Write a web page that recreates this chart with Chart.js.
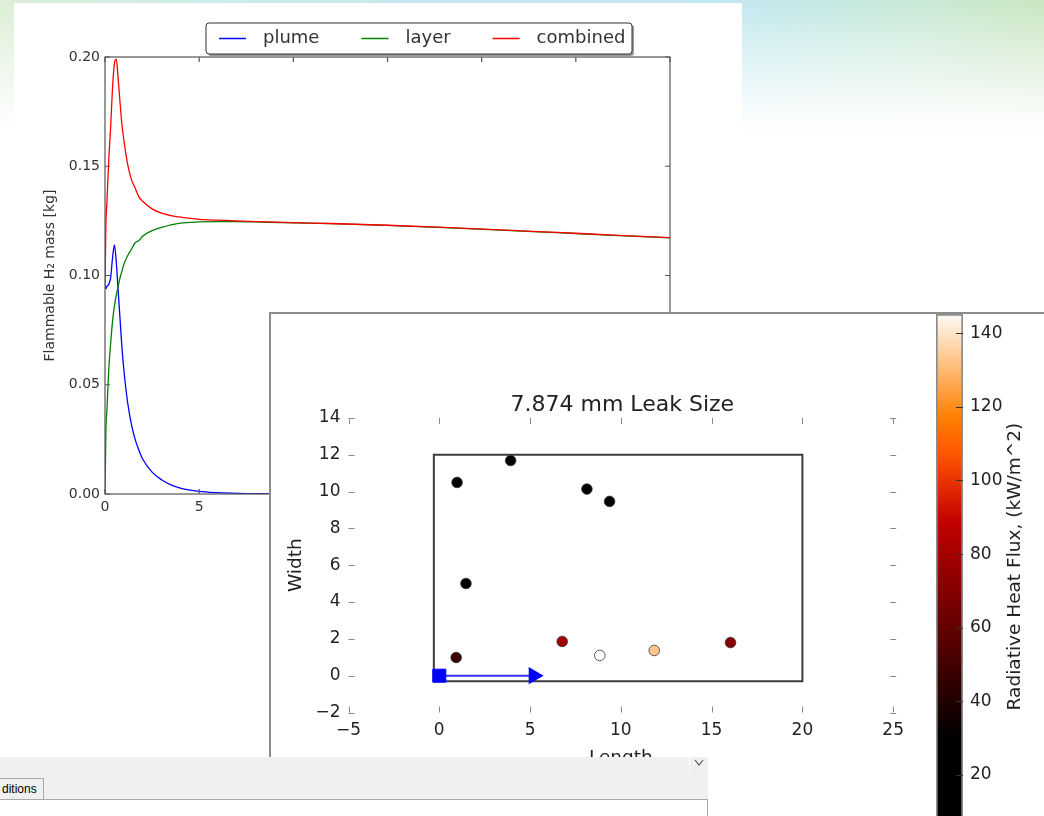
<!DOCTYPE html>
<html>
<head>
<meta charset="utf-8">
<script src="https://cdn.jsdelivr.net/npm/chart.js@4.4.1/dist/chart.umd.min.js"></script>
<style>
  html, body { margin: 0; padding: 0; width: 1044px; height: 816px; overflow: hidden; background: #fff; }
  .abs { position: absolute; }
  #slideBg {
    left: 0; top: 0; width: 1044px; height: 140px;
    background-image:
      linear-gradient(to bottom, rgba(255,255,255,0) 0px, rgba(255,255,255,0.45) 55px, rgba(255,255,255,0.92) 118px, #fff 136px),
      linear-gradient(to right, #dcefd5 0px, #c9ebee 260px, #c1e8f2 720px, #c9e9d6 920px, #c9e6c0 1044px);
  }
  #panelMass { left: 14px; top: 3px; width: 728px; height: 527px; background: #fff; }
  #massChart { left: 14px; top: 3px; }
  #panelLeak { left: 269px; top: 312px; width: 800px; height: 520px; background: #fff;
               border-left: 2px solid #8c8c8c; border-top: 2px solid #8c8c8c; }
  #leakChart { left: 272px; top: 315px; }
  #fluxBar { left: 912px; top: 290px; }
  #toolbar { left: 0; top: 757px; width: 708px; height: 43px; background: #f0f0f0; }
  #tbSep { left: 689px; top: 757px; width: 1px; height: 16px; background: #fff; }
  #tbChevron { left: 694px; top: 759px; }
  #tab { left: -1px; top: 778px; width: 45px; height: 21px; background: #f0f0f0;
         border: 1px solid #a9a9a9; border-bottom: none; box-sizing: border-box;
         font: 12px "Liberation Sans", Arial, sans-serif; color: #000; line-height: 20px; padding-left: 2px; }
  #pane { left: 0; top: 799px; width: 707px; height: 30px; background: #fff;
          border-top: 1px solid #a9a9a9; border-right: 1px solid #a9a9a9; }
</style>
</head>
<body>
<div class="abs" id="slideBg"></div>
<div class="abs" id="panelMass"></div>
<canvas class="abs" id="massChart" width="728" height="527"></canvas>
<div class="abs" id="panelLeak"></div>
<canvas class="abs" id="leakChart" width="640" height="501"></canvas>
<canvas class="abs" id="fluxBar" width="132" height="580"></canvas>
<div class="abs" id="toolbar"></div>
<div class="abs" id="tbSep"></div>
<svg class="abs" id="tbChevron" width="10" height="8"><polyline points="1,1 5,6 9,1" fill="none" stroke="#555" stroke-width="1.2"/></svg>
<div class="abs" id="pane"></div>
<div class="abs" id="tab">ditions</div>

<script>
// flammable mass over time (s)
const timeS = [0, 0.05, 0.1, 0.2, 0.3, 0.4, 0.5, 0.6, 0.7, 0.8, 0.9, 1.0, 1.2, 1.4, 1.6, 1.8, 2.0,
               2.5, 3, 3.5, 4, 5, 6, 7, 8, 10, 12, 15, 18, 21, 24, 27, 30];
const plumeKg = [0.095, 0.094, 0.095, 0.096, 0.099, 0.108, 0.114, 0.106, 0.093, 0.080, 0.067, 0.057, 0.042,
                 0.032, 0.025, 0.020, 0.016, 0.010, 0.0065, 0.0042, 0.0027, 0.0012, 0.0006, 0.0003, 0.0002,
                 0.0001, 0.0001, 0, 0, 0, 0, 0, 0];
const layerKg = [0, 0.030, 0.038, 0.057, 0.069, 0.079, 0.086, 0.091, 0.095, 0.099, 0.102, 0.105, 0.109,
                 0.112, 0.115, 0.116, 0.118, 0.1205, 0.122, 0.1232, 0.124, 0.1245, 0.1247, 0.1247, 0.1245,
                 0.1241, 0.1237, 0.1229, 0.1219, 0.1208, 0.1196, 0.1184, 0.1172];
const combinedKg = [0.095, 0.124, 0.133, 0.153, 0.168, 0.186, 0.197, 0.199, 0.190, 0.179, 0.169, 0.162, 0.151,
                    0.144, 0.140, 0.136, 0.134, 0.1305, 0.1285, 0.1274, 0.1267, 0.1257, 0.1253, 0.1250, 0.1247,
                    0.1242, 0.1238, 0.1230, 0.1220, 0.1209, 0.1197, 0.1185, 0.1173];

// leak scenario: occupant positions (m) and heat flux (kW/m^2)
const leakLengths = [0.98, 3.93, 8.13, 9.38, 1.47, 0.93, 6.77, 8.84, 11.84, 16.04];
const leakWidths  = [10.5, 11.69, 10.14, 9.47, 5.01, 0.99, 1.86, 1.1, 1.37, 1.8];
const heatFlux    = [12, 10, 18, 15, 25, 48, 79, 146, 133, 71];
const facilityX = [-0.3, 20, 20, -0.3, -0.3];
const facilityY = [-0.3, -0.3, 12, 12, -0.3];
const originX = [0];
const originY = [0];
const arrowX = [0, 5.2];
const arrowY = [0, 0];
const fluxTicks = [20, 40, 60, 80, 100, 120, 140];
const fluxScaleMin = 8;
const fluxScaleMax = 145.2;
const cmapLow = 30;
const cmapHigh = 146;

Chart.defaults.font.family = '"DejaVu Sans", sans-serif';
Chart.defaults.animation = false;

function toPoints(xs, ys) {
    return xs.map((x, i) => ({x: x, y: ys[i]}));
}

// matplotlib gist_heat
function heatColor(v) {
    const t = Math.min(1, Math.max(0, (v - cmapLow) / (cmapHigh - cmapLow)));
    const c = (k) => Math.round(255 * Math.min(1, Math.max(0, k)));
    return `rgb(${c(1.5 * t)}, ${c(2 * t - 1)}, ${c(4 * t - 3)})`;
}

function minusLabel(v) {
    return v < 0 ? '\u2212' + Math.abs(v) : String(v);
}

const massFramePlugin = {
    id: 'massFrame',
    afterDraw(chart) {
        const ctx = chart.ctx;
        const a = chart.chartArea;
        const x = chart.scales.x;
        const y = chart.scales.y;
        ctx.save();
        ctx.strokeStyle = '#555';
        ctx.lineWidth = 1.2;
        ctx.strokeRect(a.left, a.top, a.right - a.left, a.bottom - a.top);
        ctx.beginPath();
        x.ticks.forEach((t) => {
            const px = x.getPixelForValue(t.value);
            ctx.moveTo(px, a.bottom); ctx.lineTo(px, a.bottom - 5);
            ctx.moveTo(px, a.top); ctx.lineTo(px, a.top + 5);
        });
        y.ticks.forEach((t) => {
            const py = y.getPixelForValue(t.value);
            ctx.moveTo(a.left, py); ctx.lineTo(a.left + 5, py);
            ctx.moveTo(a.right, py); ctx.lineTo(a.right - 5, py);
        });
        ctx.stroke();

        // legend box
        const bx = 192, by = 20, bw = 426, bh = 31;
        ctx.fillStyle = 'rgba(0,0,0,0.4)';
        ctx.beginPath();
        ctx.roundRect(bx + 2, by + 2, bw, bh, 3);
        ctx.fill();
        ctx.fillStyle = '#fff';
        ctx.strokeStyle = '#333';
        ctx.lineWidth = 1;
        ctx.beginPath();
        ctx.roundRect(bx, by, bw, bh, 3);
        ctx.fill();
        ctx.stroke();
        ctx.font = '18px "DejaVu Sans"';
        ctx.textBaseline = 'middle';
        let lx = bx + 13;
        const ly = by + bh / 2;
        chart.data.datasets.forEach((ds) => {
            ctx.strokeStyle = ds.borderColor;
            ctx.lineWidth = 1.5;
            ctx.beginPath();
            ctx.moveTo(lx, ly); ctx.lineTo(lx + 27, ly);
            ctx.stroke();
            ctx.fillStyle = '#333';
            ctx.fillText(ds.label, lx + 44, ly);
            lx += 44 + ctx.measureText(ds.label).width + 42;
        });
        ctx.restore();
    }
};

new Chart(document.getElementById('massChart'), {
    type: 'line',
    data: {
        datasets: [
            {label: 'plume', data: toPoints(timeS, plumeKg), borderColor: '#0000ff', order: 2},
            {label: 'layer', data: toPoints(timeS, layerKg), borderColor: '#008000', order: 1},
            {label: 'combined', data: toPoints(timeS, combinedKg), borderColor: '#ff0000', order: 0}
        ]
    },
    options: {
        responsive: false,
        events: [],
        elements: {
            line: {borderWidth: 1.3, cubicInterpolationMode: 'monotone', fill: false},
            point: {radius: 0}
        },
        layout: {padding: {left: 0, top: 54, right: 72, bottom: 6}},
        plugins: {legend: {display: false}, tooltip: {enabled: false}},
        scales: {
            x: {
                type: 'linear', min: 0, max: 30,
                grid: {display: false, drawTicks: false}, border: {display: false},
                ticks: {stepSize: 5, padding: 5, color: '#333', font: {size: 14}, maxRotation: 0, autoSkip: false},
                afterFit: (s) => { s.height = 30; }
            },
            y: {
                min: 0, max: 0.2,
                grid: {display: false, drawTicks: false}, border: {display: false},
                ticks: {stepSize: 0.05, padding: 5, color: '#333', font: {size: 14},
                        callback: (v) => v.toFixed(2)},
                title: {display: true, text: 'Flammable H\u2082 mass [kg]', color: '#333',
                        font: {size: 14}, padding: {top: 28, bottom: 0}},
                afterFit: (s) => { s.width = 91; }
            }
        }
    },
    plugins: [massFramePlugin]
});

const leakFramePlugin = {
    id: 'leakFrame',
    afterDraw(chart) {
        const ctx = chart.ctx;
        const a = chart.chartArea;
        const x = chart.scales.x;
        const y = chart.scales.y;
        ctx.save();
        ctx.strokeStyle = '#888';
        ctx.lineWidth = 1;
        ctx.beginPath();
        x.ticks.forEach((t) => {
            const px = Math.round(x.getPixelForValue(t.value)) + 0.5;
            ctx.moveTo(px, a.bottom); ctx.lineTo(px, a.bottom - 6);
            ctx.moveTo(px, a.top); ctx.lineTo(px, a.top + 6);
        });
        y.ticks.forEach((t) => {
            const py = Math.round(y.getPixelForValue(t.value)) + 0.5;
            ctx.moveTo(a.left, py); ctx.lineTo(a.left + 6, py);
            ctx.moveTo(a.right - 3, py); ctx.lineTo(a.right + 3, py);
        });
        ctx.stroke();
        ctx.fillStyle = '#222';
        ctx.font = '22px "DejaVu Sans"';
        ctx.textAlign = 'center';
        ctx.textBaseline = 'middle';
        ctx.fillText('7.874 mm Leak Size', (a.left + a.right) / 2 + 1.5, a.top - 13);
        ctx.restore();
    }
};

new Chart(document.getElementById('leakChart'), {
    type: 'scatter',
    data: {
        datasets: [
            {label: 'Heat flux', data: toPoints(leakLengths, leakWidths), pointRadius: 5.3,
             pointBackgroundColor: heatFlux.map(heatColor), pointBorderColor: '#333', pointBorderWidth: 0.8, order: 0},
            {label: 'Leak origin', data: toPoints(originX, originY), pointStyle: 'rect', pointRadius: 9.2,
             pointBackgroundColor: '#0000ff', pointBorderColor: '#0000ff', pointBorderWidth: 1, order: 1},
            {type: 'line', label: 'Leak direction', data: toPoints(arrowX, arrowY), borderColor: '#3030ff',
             borderWidth: 2, pointRadius: [0, 8], pointStyle: 'triangle', pointRotation: 90,
             pointBackgroundColor: '#0000ff', pointBorderColor: '#0000ff', order: 2},
            {type: 'line', label: 'Facility', data: toPoints(facilityX, facilityY), borderColor: '#3c3c3c',
             borderWidth: 2, pointRadius: 0, order: 3}
        ]
    },
    options: {
        responsive: false,
        events: [],
        layout: {padding: {left: 0, top: 103, right: 14, bottom: 43.5}},
        plugins: {legend: {display: false}, tooltip: {enabled: false}},
        scales: {
            x: {
                type: 'linear', min: -5, max: 25,
                grid: {display: false, drawTicks: false}, border: {display: false},
                ticks: {stepSize: 5, padding: 8, color: '#222', font: {size: 17}, callback: minusLabel,
                        maxRotation: 0, autoSkip: false},
                title: {display: true, text: 'Length', color: '#222', font: {size: 18.5}, padding: {top: 0, bottom: 3}},
                afterFit: (s) => { s.height = 60; }
            },
            y: {
                min: -2, max: 14,
                grid: {display: false, drawTicks: false}, border: {display: false},
                ticks: {stepSize: 2, padding: 8, color: '#222', font: {size: 17}, callback: minusLabel},
                title: {display: true, text: 'Width', color: '#222', font: {size: 18.5}, padding: {top: 13, bottom: 0}},
                afterFit: (s) => { s.width = 76.5; }
            }
        }
    },
    plugins: [leakFramePlugin]
});

const colorbarPlugin = {
    id: 'colorbarTicks',
    afterDraw(chart) {
        const ctx = chart.ctx;
        const a = chart.chartArea;
        const y = chart.scales.y;
        ctx.save();
        ctx.strokeStyle = '#333';
        ctx.lineWidth = 1;
        ctx.beginPath();
        fluxTicks.forEach((v) => {
            const py = Math.round(y.getPixelForValue(v)) + 0.5;
            ctx.moveTo(a.right, py); ctx.lineTo(a.right - 7, py);
        });
        ctx.stroke();
        ctx.translate(a.right + 52, (a.top + a.bottom) / 2);
        ctx.rotate(-Math.PI / 2);
        ctx.fillStyle = '#222';
        ctx.font = '18.5px "DejaVu Sans"';
        ctx.textAlign = 'center';
        ctx.textBaseline = 'middle';
        ctx.fillText('Radiative Heat Flux, (kW/m^2)', 0, 0);
        ctx.restore();
    }
};

function fluxGradient(context) {
    const chart = context.chart;
    if (!chart.chartArea) return '#000';
    const y = chart.scales.y;
    const g = chart.ctx.createLinearGradient(0, y.getPixelForValue(fluxScaleMin), 0, y.getPixelForValue(fluxScaleMax));
    for (let i = 0; i <= 60; i++) {
        g.addColorStop(i / 60, heatColor(fluxScaleMin + (fluxScaleMax - fluxScaleMin) * i / 60));
    }
    return g;
}

new Chart(document.getElementById('fluxBar'), {
    type: 'bar',
    data: {
        labels: ['flux'],
        datasets: [{
            data: [[fluxScaleMin, fluxScaleMax]],
            backgroundColor: fluxGradient,
            borderColor: '#8c8c8c', borderWidth: 2, borderSkipped: false,
            barPercentage: 1, categoryPercentage: 1
        }]
    },
    options: {
        responsive: false,
        events: [],
        layout: {padding: {left: 24, top: 24, right: 0, bottom: 50.8}},
        plugins: {legend: {display: false}, tooltip: {enabled: false}},
        scales: {
            x: {display: false},
            y: {
                position: 'right', min: fluxScaleMin, max: fluxScaleMax,
                grid: {display: false, drawTicks: false}, border: {display: false},
                afterBuildTicks: (s) => { s.ticks = fluxTicks.map((v) => ({value: v})); },
                ticks: {padding: 7, color: '#222', font: {size: 17}},
                afterFit: (s) => { s.width = 81; }
            }
        }
    },
    plugins: [colorbarPlugin]
});
</script>
</body>
</html>
